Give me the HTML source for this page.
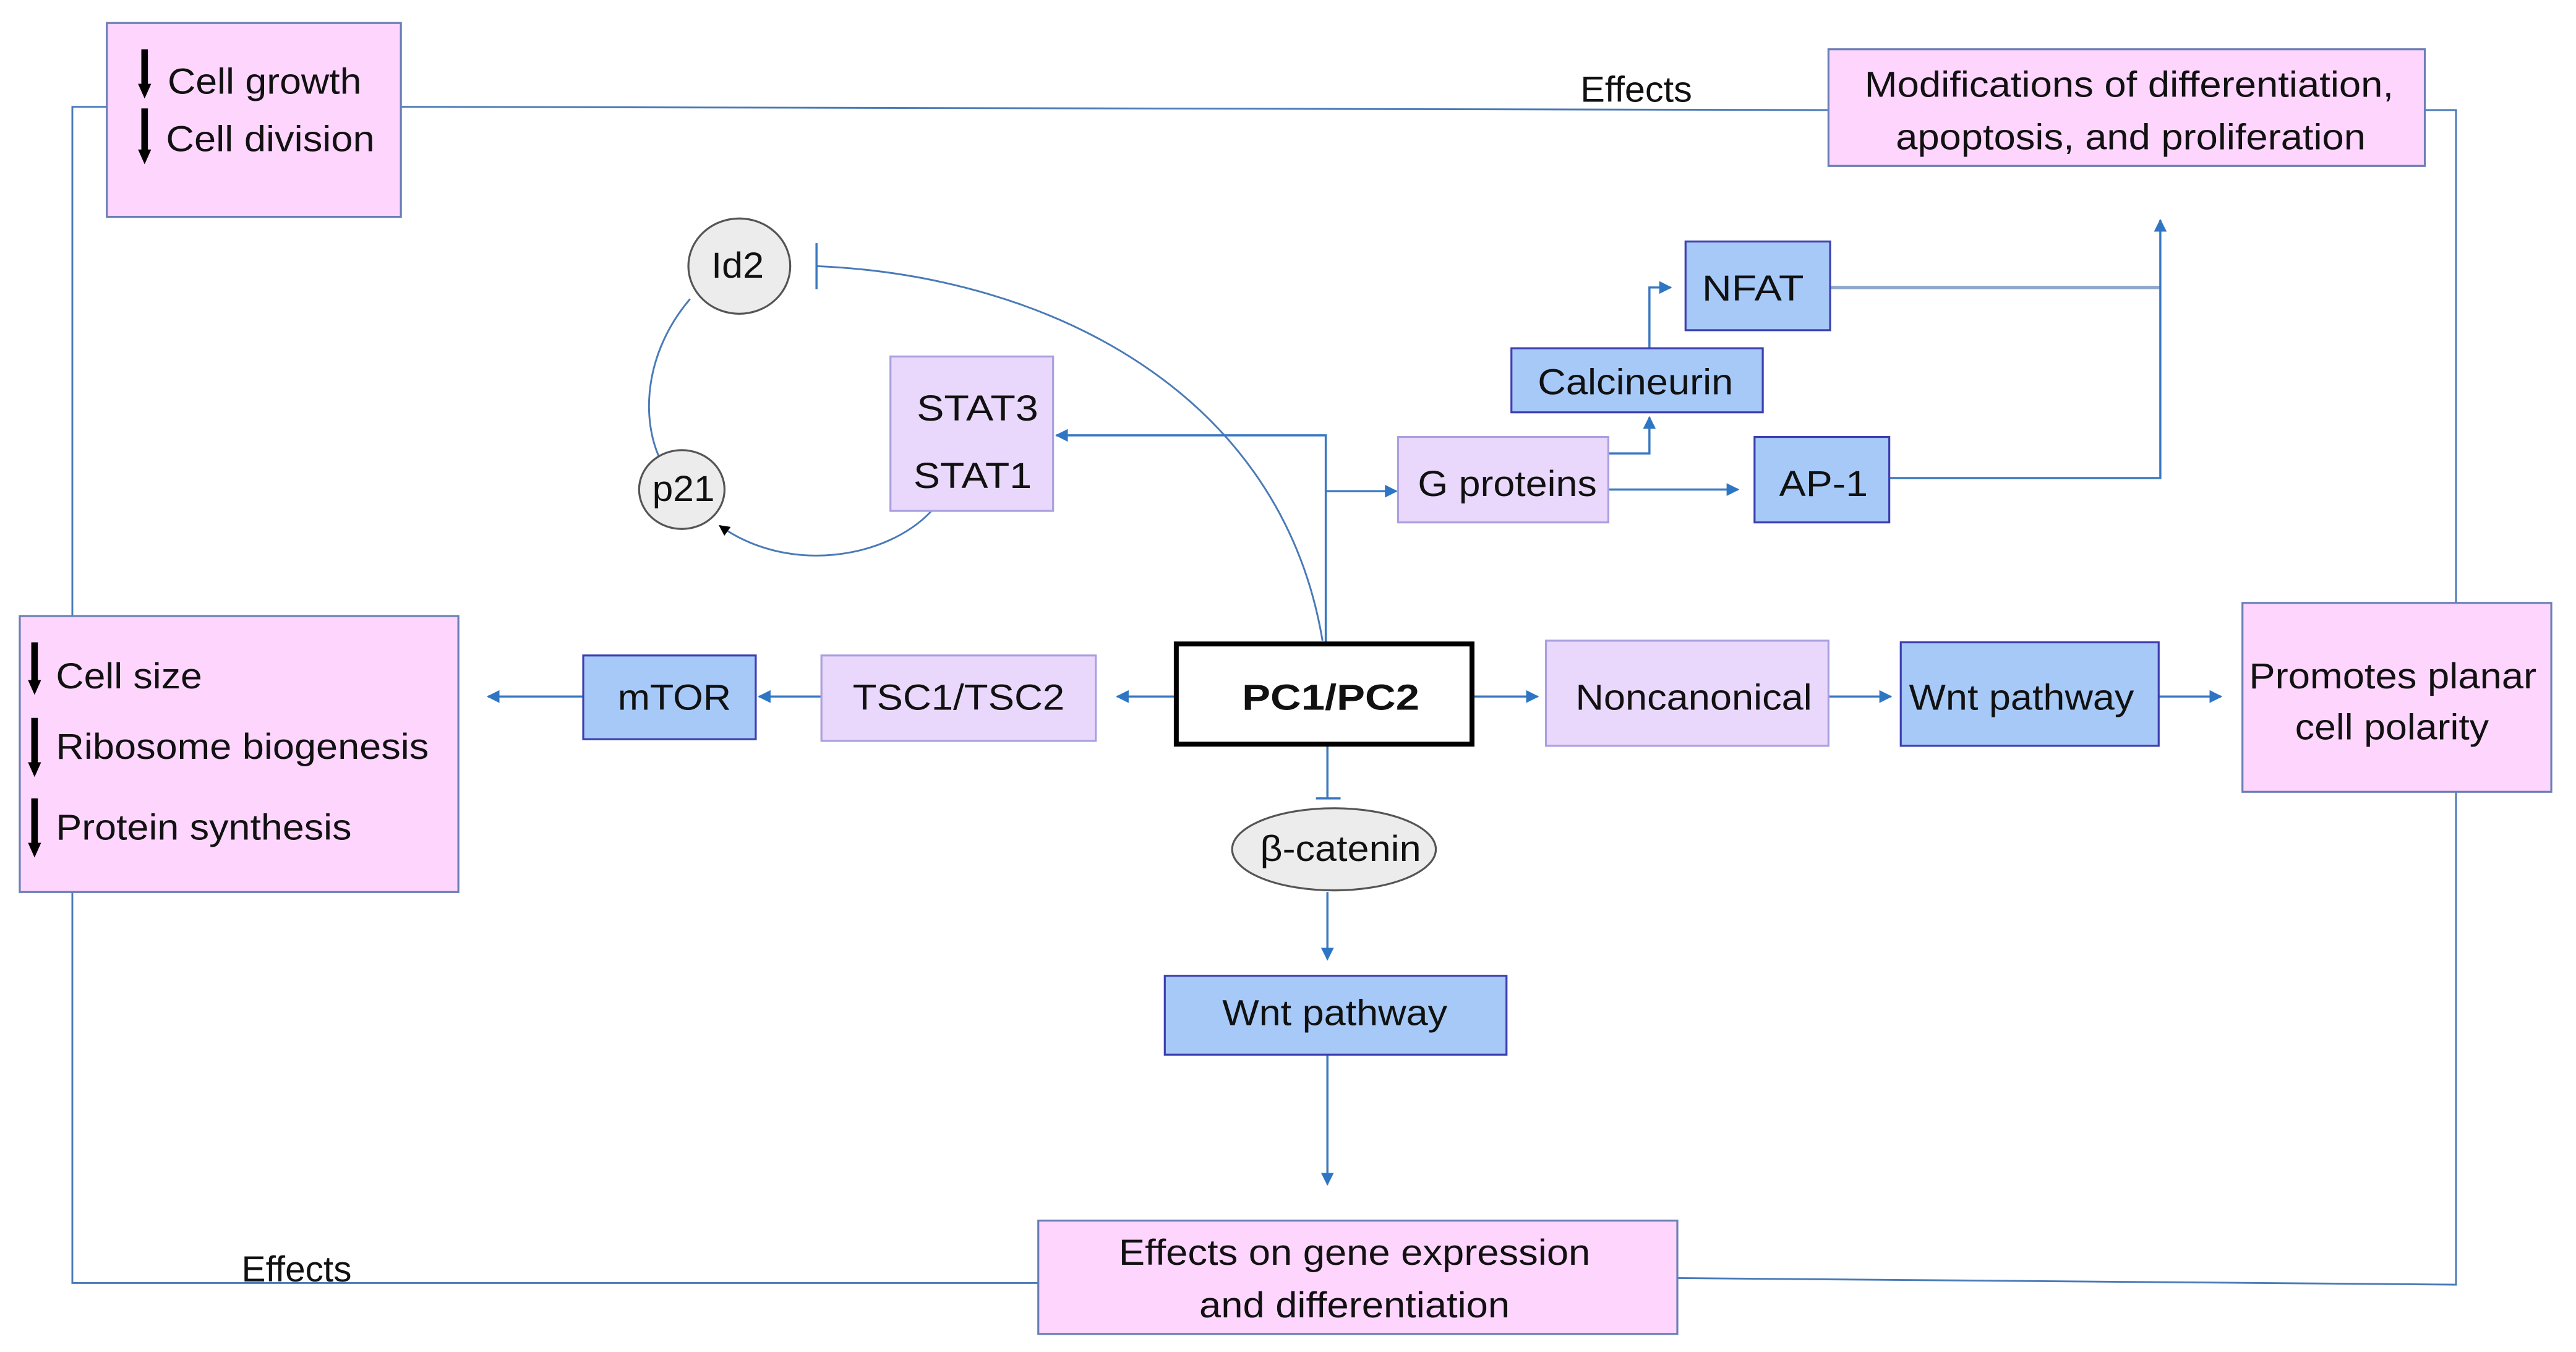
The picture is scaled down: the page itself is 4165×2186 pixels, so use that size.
<!DOCTYPE html>
<html><head><meta charset="utf-8"><style>
html,body{margin:0;padding:0;background:#fff;}
svg{display:block;}
text{font-family:"Liberation Sans",sans-serif;fill:#111;}
</style></head><body>
<svg width="4165" height="2186" viewBox="0 0 1568 823" xmlns="http://www.w3.org/2000/svg">
<defs>
<marker id="a" viewBox="0 0 10 10" refX="9" refY="5" markerWidth="6" markerHeight="6" orient="auto"><path d="M0,0L10,5L0,10z" fill="#2e75c4"/></marker>
<marker id="k" viewBox="0 0 10 10" refX="9" refY="5" markerWidth="6" markerHeight="6" orient="auto"><path d="M0,0L10,5L0,10z" fill="#000"/></marker>
</defs>
<g fill="none" stroke="#4a7ab8" stroke-width="1.1">
<polyline points="65,65 44,65 44,375"/>
<polyline points="244,65 1113,67"/>
<polyline points="1476,67 1495,67 1495,367"/>
<polyline points="1495,482 1495,782 1021,778"/>
<polyline points="44,543 44,781 632,781"/>
<path d="M805,390 C780,240 640,168 497,162"/>
<path d="M420,182 C392,215 390,255 402,280"/>
<path d="M567,311 C540,340 480,350 438,320" marker-end="url(#k)"/>
</g>
<g fill="none" stroke="#3a78c0" stroke-width="1.3">
<line x1="497" y1="148" x2="497" y2="176"/>
<line x1="715" y1="424" x2="680" y2="424" marker-end="url(#a)"/>
<line x1="500" y1="424" x2="462" y2="424" marker-end="url(#a)"/>
<line x1="355" y1="424" x2="297" y2="424" marker-end="url(#a)"/>
<line x1="897" y1="424" x2="936" y2="424" marker-end="url(#a)"/>
<line x1="1113" y1="424" x2="1151" y2="424" marker-end="url(#a)"/>
<line x1="1314" y1="424" x2="1352" y2="424" marker-end="url(#a)"/>
<line x1="808" y1="454" x2="808" y2="486"/>
<line x1="801" y1="486" x2="816" y2="486"/>
<line x1="808" y1="543" x2="808" y2="584" marker-end="url(#a)"/>
<line x1="808" y1="642" x2="808" y2="721" marker-end="url(#a)"/>
<polyline points="807,391 807,265 643,265" marker-end="url(#a)"/>
<polyline points="807,299 850,299" marker-end="url(#a)"/>
<line x1="979" y1="298" x2="1058" y2="298" marker-end="url(#a)"/>
<polyline points="979,276 1004,276 1004,254" marker-end="url(#a)"/>
<polyline points="1004,212 1004,175 1017,175" marker-end="url(#a)"/>
<polyline points="1114,175 1315,175" stroke="#8ea8cc" stroke-width="2"/>
<polyline points="1150,291 1315,291 1315,134" marker-end="url(#a)"/>
</g>
<g stroke-width="1.2">
<rect x="65" y="14" width="179" height="118" fill="#fdd5fd" stroke="#6a7fb5"/>
<rect x="1113" y="30" width="363" height="71" fill="#fdd5fd" stroke="#6a7fb5"/>
<rect x="12" y="375" width="267" height="168" fill="#fdd5fd" stroke="#6a7fb5"/>
<rect x="1365" y="367" width="188" height="115" fill="#fdd5fd" stroke="#6a7fb5"/>
<rect x="632" y="743" width="389" height="69" fill="#fdd5fd" stroke="#6a7fb5"/>
<rect x="542" y="217" width="99" height="94" fill="#e9d8fb" stroke="#a9a0e0"/>
<rect x="851" y="266" width="128" height="52" fill="#e9d8fb" stroke="#a9a0e0"/>
<rect x="500" y="399" width="167" height="52" fill="#e9d8fb" stroke="#a9a0e0"/>
<rect x="941" y="390" width="172" height="64" fill="#e9d8fb" stroke="#a9a0e0"/>
<rect x="355" y="399" width="105" height="51" fill="#a6c9f8" stroke="#3e3eb0"/>
<rect x="1157" y="391" width="157" height="63" fill="#a6c9f8" stroke="#3e3eb0"/>
<rect x="709" y="594" width="208" height="48" fill="#a6c9f8" stroke="#3e3eb0"/>
<rect x="920" y="212" width="153" height="39" fill="#a6c9f8" stroke="#3e3eb0"/>
<rect x="1026" y="147" width="88" height="54" fill="#a6c9f8" stroke="#3e3eb0"/>
<rect x="1068" y="266" width="82" height="52" fill="#a6c9f8" stroke="#3e3eb0"/>
<rect x="716" y="392" width="180" height="61" fill="#fff" stroke="#000" stroke-width="3"/>
<ellipse cx="450" cy="162" rx="31" ry="29" fill="#ececec" stroke="#555"/>
<ellipse cx="415" cy="298" rx="26" ry="24" fill="#ececec" stroke="#555"/>
<ellipse cx="812" cy="517" rx="62" ry="25" fill="#ececec" stroke="#555"/>
</g>
<g fill="#000">
<rect x="86" y="30" width="4" height="22"/><polygon points="84,51 92,51 88,60"/>
<rect x="86" y="66" width="4" height="26"/><polygon points="84,91 92,91 88,100"/>
<rect x="19" y="391" width="4" height="24"/><polygon points="17,414 25,414 21,423"/>
<rect x="19" y="437" width="4" height="28"/><polygon points="17,464 25,464 21,473"/>
<rect x="19" y="486" width="4" height="28"/><polygon points="17,513 25,513 21,522"/>
</g>
<g font-size="22">
<text x="102" y="57" textLength="118" lengthAdjust="spacingAndGlyphs">Cell growth</text>
<text x="101" y="92" textLength="127" lengthAdjust="spacingAndGlyphs">Cell division</text>
<text x="962" y="62" textLength="68" lengthAdjust="spacingAndGlyphs">Effects</text>
<text x="147" y="780" textLength="67" lengthAdjust="spacingAndGlyphs">Effects</text>
<text x="1135" y="59" textLength="322" lengthAdjust="spacingAndGlyphs">Modifications of differentiation,</text>
<text x="1154" y="91" textLength="286" lengthAdjust="spacingAndGlyphs">apoptosis, and proliferation</text>
<text x="34" y="419" textLength="89" lengthAdjust="spacingAndGlyphs">Cell size</text>
<text x="34" y="462" textLength="227" lengthAdjust="spacingAndGlyphs">Ribosome biogenesis</text>
<text x="34" y="511" textLength="180" lengthAdjust="spacingAndGlyphs">Protein synthesis</text>
<text x="376" y="432" textLength="69" lengthAdjust="spacingAndGlyphs">mTOR</text>
<text x="519" y="432" textLength="129" lengthAdjust="spacingAndGlyphs">TSC1/TSC2</text>
<text x="756" y="432" font-weight="bold" textLength="108" lengthAdjust="spacingAndGlyphs">PC1/PC2</text>
<text x="959" y="432" textLength="144" lengthAdjust="spacingAndGlyphs">Noncanonical</text>
<text x="1162" y="432" textLength="137" lengthAdjust="spacingAndGlyphs">Wnt pathway</text>
<text x="1369" y="419" textLength="175" lengthAdjust="spacingAndGlyphs">Promotes planar</text>
<text x="1397" y="450" textLength="118" lengthAdjust="spacingAndGlyphs">cell polarity</text>
<text x="767" y="524" textLength="98" lengthAdjust="spacingAndGlyphs">β-catenin</text>
<text x="744" y="624" textLength="137" lengthAdjust="spacingAndGlyphs">Wnt pathway</text>
<text x="681" y="770" textLength="287" lengthAdjust="spacingAndGlyphs">Effects on gene expression</text>
<text x="730" y="802" textLength="189" lengthAdjust="spacingAndGlyphs">and differentiation</text>
<text x="558" y="256" textLength="74" lengthAdjust="spacingAndGlyphs">STAT3</text>
<text x="556" y="297" textLength="72" lengthAdjust="spacingAndGlyphs">STAT1</text>
<text x="863" y="302" textLength="109" lengthAdjust="spacingAndGlyphs">G proteins</text>
<text x="936" y="240" textLength="119" lengthAdjust="spacingAndGlyphs">Calcineurin</text>
<text x="1036" y="183" textLength="62" lengthAdjust="spacingAndGlyphs">NFAT</text>
<text x="1083" y="302" textLength="54" lengthAdjust="spacingAndGlyphs">AP-1</text>
<text x="433" y="169" textLength="32" lengthAdjust="spacingAndGlyphs">Id2</text>
<text x="397" y="305" textLength="38" lengthAdjust="spacingAndGlyphs">p21</text>
</g>
</svg>
</body></html>
